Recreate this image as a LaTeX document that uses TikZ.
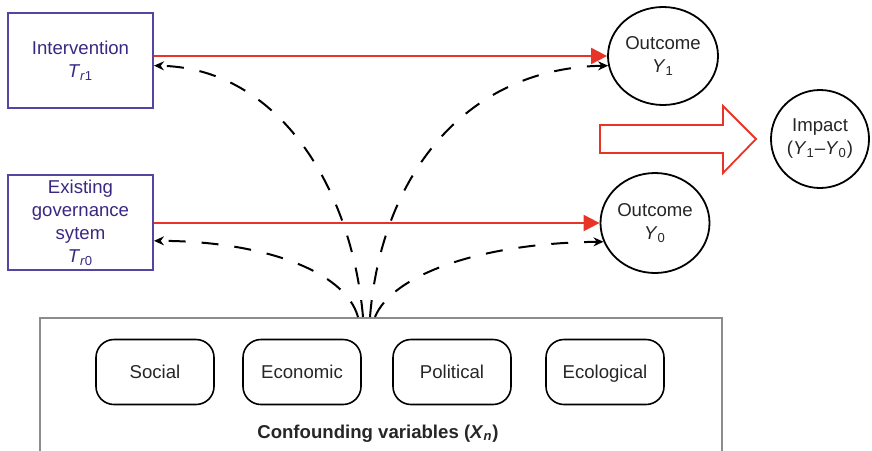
\documentclass[tikz,border=0pt]{standalone}
\usepackage{fontspec}
\setmainfont{Liberation Sans}
\usetikzlibrary{arrows.meta,shapes.geometric}
\definecolor{govpurple}{RGB}{82,70,160}
\definecolor{govtext}{RGB}{58,40,128}
\definecolor{causered}{RGB}{232,52,40}
\definecolor{confgray}{RGB}{140,140,140}
\begin{document}
\begin{tikzpicture}[x=0.5pt,y=-0.5pt,
        font=\fontsize{9.3}{11.5}\selectfont,
        treat/.style={draw=govpurple,line width=1pt,text=govtext,align=center,
            minimum width=72.5pt,minimum height=47.5pt,inner sep=0pt},
        outc/.style={draw,ellipse,line width=0.9pt,align=center,inner sep=0pt,text=black!85},
        factor/.style={draw,rounded corners=9pt,line width=0.8pt,text height=1.5ex,text depth=.3ex,
            minimum width=59pt,minimum height=32.5pt,text=black!85},
        effect/.style={causered,line width=1pt,-{Triangle[length=8pt,width=8pt]}},
        confound/.style={dash pattern=on 8.5pt off 8pt,line width=1pt,
            -{Stealth[length=5pt,width=4.5pt]}}]
        \useasboundingbox (0,0) rectangle (872,450);

        \node[treat] (interv) at (80.5,60.5) {Intervention\\\textit{T}\textsubscript{\textit{r}1}};
        \node[treat] (exist) at (80.5,222.5) {Existing\\governance\\sytem\\\textit{T}\textsubscript{\textit{r}0}};
        \node[outc,minimum width=55pt,minimum height=49pt] (outone) at (663,56) {Outcome\\\textit{Y}\textsubscript{1}};
        \node[outc,minimum width=54.5pt,minimum height=50pt] (outzero) at (655,223) {Outcome\\\textit{Y}\textsubscript{0}};
        \node[outc,minimum width=49pt,minimum height=49pt] (impact) at (820,139) {Impact\\(\textit{Y}\textsubscript{1}--\textit{Y}\textsubscript{0})};

        \node[draw=confgray,line width=0.8pt,minimum width=341pt,minimum height=68.5pt] (conf) at (381,386.5) {};
        \node[factor] (social) at (155,372) {Social};
        \node[factor] (econ) at (302,372) {Economic};
        \node[factor] (polit) at (452,372) {Political};
        \node[factor] (ecol) at (605,372) {Ecological};
        \node[font=\bfseries\fontsize{9.3}{11}\selectfont,text=black!85] (conflabel) at (378,434) {Confounding variables (\textit{X}\textsubscript{\textit{n}})};
        \coordinate (src) at (366,317);

        \draw[effect] (interv.east |- outone.west) -- (outone.west);
        \draw[effect] (exist.east |- outzero.west) -- (outzero.west);
        \draw[causered,line width=0.9pt] (600,125) -- (723,125) -- (723,106) -- (756,139)
            -- (723,173) -- (723,153) -- (600,153) -- cycle;

        \draw[confound] ([xshift=-1.5pt]src) .. controls (352,190) and (280,68) .. (interv.-4);
        \draw[confound] ([xshift=2pt]src) .. controls (382,170) and (470,68) .. (outone.190);
        \draw[confound] ([xshift=-4pt]src) .. controls (345,270) and (260,241) .. (exist.-14);
        \draw[confound] ([xshift=4.5pt]src) .. controls (392,275) and (480,243) .. (outzero.200);
    \end{tikzpicture}
\end{document}
